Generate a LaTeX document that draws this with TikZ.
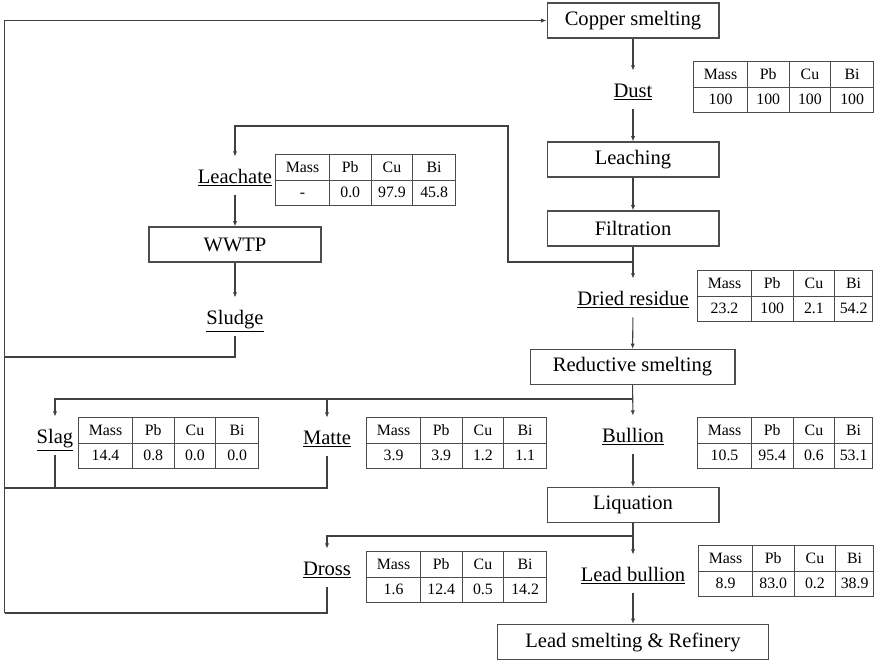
\documentclass[tikz,border=0pt]{standalone}
\usepackage{fontspec}
\setmainfont{Liberation Serif}
\usepackage{array}
\usepackage{colortbl}
\usepackage{tikz}
\usetikzlibrary{arrows.meta}

\newcolumntype{C}[1]{>{\centering\arraybackslash}p{#1}}
\newcommand{\comptab}[5]{%
  \setlength{\tabcolsep}{0pt}\renewcommand{\arraystretch}{1.3}%
  \arrayrulecolor{black!70}%
  \begin{tabular}{|C{1.06cm}|C{0.82cm}|C{0.82cm}|C{#1}|}\hline
    Mass & Pb & Cu & Bi\\\hline
    #2 & #3 & #4 & #5\\\hline
  \end{tabular}}

\begin{document}
\begin{tikzpicture}[x=0.02cm, y=-0.02cm,
    box/.style={draw=black!70, line width=0.6pt, minimum width=3.44cm, minimum height=0.7cm, font=\fontsize{11.7}{14}\selectfont},
    stream/.style={anchor=base, text height=0.28cm, text depth=0pt, inner xsep=2pt, inner ysep=0.24cm, font=\fontsize{11.7}{14}\selectfont},
    tab/.style={anchor=north west, inner sep=0pt, font=\fontsize{9}{10.8}\selectfont},
    line/.style={draw=black!75, line width=0.6pt},
    arr/.style={line, -{Latex[length=3pt,width=2.4pt]}}]
        \useasboundingbox (0,0) rectangle (874,660);

        % main route
        \node[box] (cop) at (633,20.5) {Copper smelting};
        \node[stream] (dust) at (633,97) {\underline{Dust}};
        \node[box] (leach) at (633,159.5) {Leaching};
        \node[box] (filt) at (633,228.5) {Filtration};
        \node[stream] (dried) at (633,305) {\underline{Dried residue}};
        \node[box, minimum width=4.1cm] (red) at (632.5,367) {Reductive smelting};
        \node[stream] (bull) at (633,442) {\underline{Bullion}};
        \node[box] (liq) at (633,505) {Liquation};
        \node[stream] (lbull) at (633,581) {\underline{Lead bullion}};
        \node[box, minimum width=5.42cm] (lsr) at (633,642) {Lead smelting \& Refinery};

        % side streams
        \node[stream] (lea) at (235,183) {\underline{Leachate}};
        \node[box] (wwtp) at (235,244.5) {WWTP};
        \node[stream] (sludge) at (235,324) {\underline{Sludge}};
        \node[stream] (slag) at (55,443) {\underline{Slag}};
        \node[stream] (matte) at (327,444) {\underline{Matte}};
        \node[stream] (dross) at (327,575) {\underline{Dross}};

        % distribution tables
        \node[tab] (tdust) at (693,61) {\comptab{0.84cm}{100}{100}{100}{100}};
        \node[tab] (tlea) at (275,154) {\comptab{0.84cm}{-}{0.0}{97.9}{45.8}};
        \node[tab] (tdried) at (697,270) {\comptab{0.74cm}{23.2}{100}{2.1}{54.2}};
        \node[tab] (tslag) at (78,417) {\comptab{0.84cm}{14.4}{0.8}{0.0}{0.0}};
        \node[tab] (tmatte) at (366,417) {\comptab{0.84cm}{3.9}{3.9}{1.2}{1.1}};
        \node[tab] (tbull) at (697,417) {\comptab{0.74cm}{10.5}{95.4}{0.6}{53.1}};
        \node[tab] (tdross) at (366,551) {\comptab{0.84cm}{1.6}{12.4}{0.5}{14.2}};
        \node[tab] (tlbull) at (698,545) {\comptab{0.74cm}{8.9}{83.0}{0.2}{38.9}};

        \coordinate (fj) at (633,262);
        \coordinate (lbend) at (508,126);
        \coordinate (rj) at (633,399);
        \coordinate (lj) at (633,536);
        \coordinate (rs) at (4.5,357);
        \coordinate (rm) at (4.5,488);
        \coordinate (rd) at (4.5,613);

        \draw[arr] (cop) -- (dust);
        \draw[arr] (dust) -- (leach);
        \draw[arr] (leach) -- (filt);
        \draw[arr] (filt) -- (dried);
        \draw[arr] (dried) -- (red);
        \draw[arr] (red) -- (bull);
        \draw[arr] (bull) -- (liq);
        \draw[arr] (liq) -- (lbull);
        \draw[arr] (lbull) -- (lsr);

        \draw[arr] (fj) -| (lbend) -| (lea);
        \draw[arr] (lea) -- (wwtp);
        \draw[arr] (wwtp) -- (sludge);
        \draw[line] (sludge) |- (rs);

        \draw[arr] (rj) -| (slag);
        \draw[arr] (rj -| matte) -- (matte);
        \draw[line] (matte) |- (rm);
        \draw[line] (slag) -- (slag |- rm);

        \draw[arr] (lj) -| (dross);
        \draw[line] (dross) |- (rd);
        \draw[arr] (rd) |- (cop.west);
    \end{tikzpicture}
\end{document}
